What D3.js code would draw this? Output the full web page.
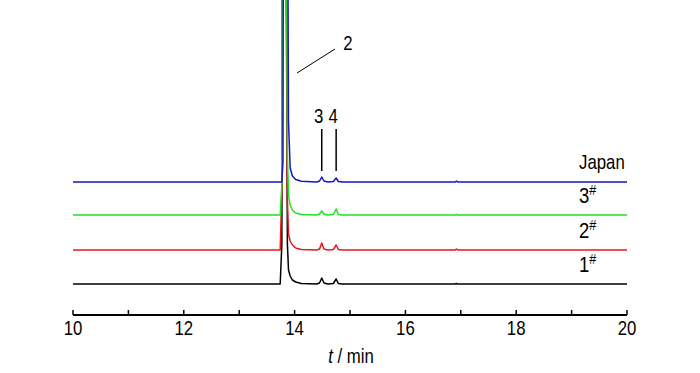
<!DOCTYPE html>
<html>
<head>
<meta charset="utf-8">
<script src="https://cdn.jsdelivr.net/npm/d3@7"></script>
<style>
  body { margin: 0; background: #fff; }
  svg { display: block; font-family: "Liberation Sans", Arial, sans-serif; }
</style>
</head>
<body>
<div id="chart"></div>
<script>
// retention time (min)
var times = [10, 13.74, 13.77, 13.79, 13.81, 13.83, 13.85, 13.87, 13.89, 13.92, 13.96, 14.02, 14.12, 14.40,
             14.45, 14.49, 14.53, 14.60, 14.70, 14.75, 14.79, 14.86, 16.90, 16.92, 16.94, 20];

// signal of each sample (arbitrary units, before stacking)
var sample1 = [0, 0, 40, 700, 700, 700, 300, 40, 14, 8, 4, 2, 0.5, 0, 1, 6, 1, 0, 0.5, 5, 0.5, 0, 0, 0.5, 0, 0];
var sample2 = [0, 0, 60, 700, 700, 700, 300, 50, 16, 9, 5, 2, 0.5, 0, 1, 7, 1, 0, 0.5, 5, 0.5, 0, 0, 1, 0, 0];
var sample3 = [0, 0, 30, 700, 700, 700, 350, 60, 20, 10, 5, 2, 0.5, 0, 1, 4, 1, 0, 0.5, 6, 0.5, 0, 0, 0.5, 0, 0];
var japan   = [0, 0, 0, 20, 700, 700, 700, 350, 60, 14, 6, 2.5, 0.7, 0, 1, 5, 1, 0, 0.5, 4, 0.5, 0, 0, 1, 0, 0];

var seriesNames = ["1#", "2#", "3#", "Japan"];
var seriesValues = [sample1, sample2, sample3, japan];
var seriesOffsets = [0, 34, 69, 102];
var seriesColors = ["#000000", "#e8161b", "#1ee41e", "#1515c8"];

var xTicks = [10, 11, 12, 13, 14, 15, 16, 17, 18, 19, 20];
var xTickLabels = [10, 12, 14, 16, 18, 20];

// peak annotations
var peakLabels = ["3", "4"];
var peakTimes = [14.49, 14.75];

var width = 700, height = 373;
var svg = d3.select("#chart").append("svg").attr("width", width).attr("height", height);

var x = d3.scaleLinear().domain([10, 20]).range([73, 627]);
var y = d3.scaleLinear().domain([0, 300]).range([284, -16]);

// narrow text, like the original figure font
function label(px, py, anchor, size) {
  return svg.append("g").attr("transform", "translate(" + px + "," + py + ") scale(0.84,1)")
    .append("text").attr("text-anchor", anchor).attr("font-size", size || 20);
}

svg.append("clipPath").attr("id", "clip")
  .append("rect").attr("x", 0).attr("y", 0).attr("width", width).attr("height", 310);

var g = svg.append("g").attr("clip-path", "url(#clip)");

seriesValues.forEach(function(vals, i) {
  var line = d3.line()
    .x(function(d, j) { return x(times[j]); })
    .y(function(d) { return y(seriesOffsets[i] + d); });
  g.append("path")
    .datum(vals)
    .attr("d", line)
    .attr("fill", "none")
    .attr("stroke", seriesColors[i])
    .attr("stroke-width", 1.5)
    .attr("stroke-linejoin", "round");
});

// x axis
var axisY = 315;
svg.append("line").attr("x1", x(10)).attr("x2", x(20)).attr("y1", axisY).attr("y2", axisY)
  .attr("stroke", "#000").attr("stroke-width", 2);
svg.selectAll(".tick").data(xTicks).enter().append("line")
  .attr("x1", function(d) { return x(d); }).attr("x2", function(d) { return x(d); })
  .attr("y1", axisY).attr("y2", axisY - 5)
  .attr("stroke", "#000").attr("stroke-width", 1.5);
xTickLabels.forEach(function(d) {
  label(x(d), axisY + 20, "middle").text(d);
});

var title = label(351, 363, "middle");
title.append("tspan").attr("font-style", "italic").text("t");
title.append("tspan").text(" / min");

// series labels
seriesNames.forEach(function(name, i) {
  var ty = y(seriesOffsets[i]) - 12;
  if (name === "Japan") {
    label(579, ty - 1, "start").text(name);
  } else {
    var t = label(579, ty, "start", 22);
    t.append("tspan").text(name.charAt(0));
    t.append("tspan").attr("font-size", 15).attr("dy", -8).text("#");
  }
});

// peak 2 annotation
svg.append("line").attr("x1", 297).attr("y1", 73).attr("x2", 335).attr("y2", 49)
  .attr("stroke", "#000").attr("stroke-width", 1);
label(348, 50, "middle").text("2");

// peaks 3, 4
peakTimes.forEach(function(t, i) {
  svg.append("line").attr("x1", x(t)).attr("x2", x(t)).attr("y1", 129).attr("y2", 171)
    .attr("stroke", "#000").attr("stroke-width", 1.5);
  label(x(t) - 3, 123, "middle").text(peakLabels[i]);
});
</script>
</body>
</html>
